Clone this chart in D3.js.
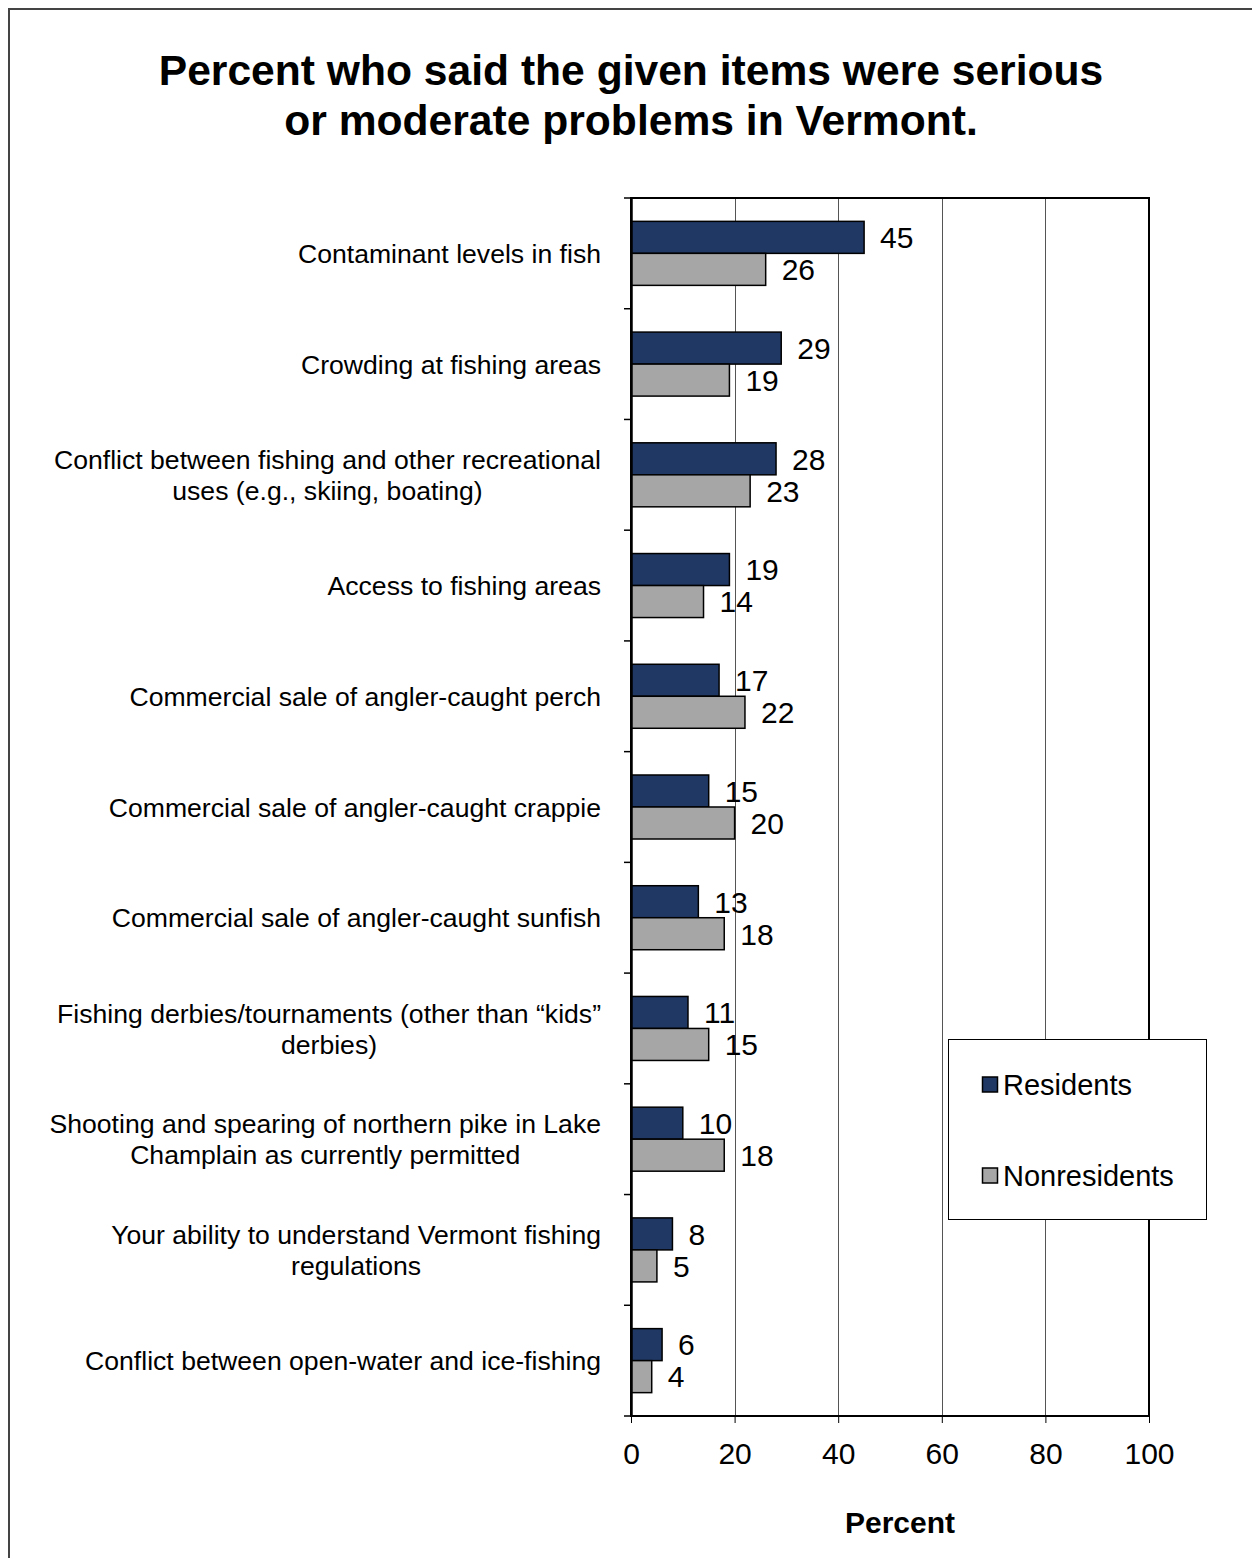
<!DOCTYPE html>
<html>
<head>
<meta charset="utf-8">
<script src="https://cdn.jsdelivr.net/npm/d3@7"></script>
<style>
  html, body { margin: 0; padding: 0; background: #fff; }
  svg { display: block; font-family: "Liberation Sans", Arial, sans-serif; }
</style>
</head>
<body>
<script>
// Survey items (each entry is the list of lines for its label)
const categories = [
  ["Contaminant levels in fish"],
  ["Crowding at fishing areas"],
  ["Conflict between fishing and other recreational", "uses (e.g., skiing, boating)"],
  ["Access to fishing areas"],
  ["Commercial sale of angler-caught perch"],
  ["Commercial sale of angler-caught crappie"],
  ["Commercial sale of angler-caught sunfish"],
  ["Fishing derbies/tournaments (other than \u201ckids\u201d", "derbies)"],
  ["Shooting and spearing of northern pike in Lake", "Champlain as currently permitted"],
  ["Your ability to understand Vermont fishing", "regulations"],
  ["Conflict between open-water and ice-fishing"]
];
const seriesNames = ["Residents", "Nonresidents"];
const residents    = [45, 29, 28, 19, 17, 15, 13, 11, 10, 8, 6];
const nonresidents = [26, 19, 23, 14, 22, 20, 18, 15, 18, 5, 4];
const xTicks = [0, 20, 40, 60, 80, 100];
const seriesColors = ["#203864", "#A6A6A6"];

const W = 1252, H = 1558;
const plot = { left: 631, right: 1149, top: 198, bottom: 1416 };

const svg = d3.select("body").append("svg")
  .attr("width", W).attr("height", H);

// outer frame (right and bottom run off the page)
svg.append("rect")
  .attr("x", 9).attr("y", 9).attr("width", W + 20).attr("height", H + 20)
  .attr("fill", "#fff").attr("stroke", "#444").attr("stroke-width", 2);

// title
const title = svg.append("text")
  .attr("text-anchor", "middle")
  .attr("font-weight", "bold").attr("font-size", 42.6).attr("fill", "#000");
title.append("tspan").attr("x", 631).attr("y", 85)
  .text("Percent who said the given items were serious");
title.append("tspan").attr("x", 631).attr("y", 135)
  .text("or moderate problems in Vermont.");

const keys = categories.map((d, i) => i);
const x = d3.scaleLinear().domain([0, 100]).range([plot.left, plot.right]);
const y = d3.scaleBand().domain(keys).range([plot.top, plot.bottom]).paddingInner(0).paddingOuter(0);
const ySub = d3.scaleBand().domain(seriesNames).range([0, y.bandwidth()])
  .paddingInner(0).paddingOuter(0.73);

// gridlines
svg.append("g").selectAll("line")
  .data(xTicks.filter(t => t > 0 && t < 100))
  .join("line")
  .attr("x1", d => Math.round(x(d)) + 0.5).attr("x2", d => Math.round(x(d)) + 0.5)
  .attr("y1", plot.top).attr("y2", plot.bottom)
  .attr("stroke", "#555").attr("stroke-width", 1);

// bars
const rows = keys.map(i => ({ i, vals: [residents[i], nonresidents[i]] }));
const rowG = svg.append("g").selectAll("g").data(rows).join("g")
  .attr("transform", d => `translate(0,${y(d.i)})`);

rowG.selectAll("rect")
  .data(d => d.vals.map((v, j) => ({ v, s: seriesNames[j], j })))
  .join("rect")
  .attr("x", x(0))
  .attr("y", d => ySub(d.s))
  .attr("width", d => x(d.v) - x(0))
  .attr("height", ySub.bandwidth())
  .attr("fill", d => seriesColors[d.j])
  .attr("stroke", "#000").attr("stroke-width", 1.5);

// value labels
rowG.selectAll("text.val")
  .data(d => d.vals.map((v, j) => ({ v, s: seriesNames[j], j })))
  .join("text").attr("class", "val")
  .attr("x", d => x(d.v) + 16)
  .attr("y", d => ySub(d.s) + ySub.bandwidth() / 2)
  .attr("dy", "0.36em")
  .attr("font-size", 30).attr("fill", "#000")
  .text(d => d.v);

// plot border
svg.append("rect")
  .attr("x", plot.left).attr("y", plot.top)
  .attr("width", plot.right - plot.left).attr("height", plot.bottom - plot.top)
  .attr("fill", "none").attr("stroke", "#000").attr("stroke-width", 2);

// category axis
const yAxis = d3.axisLeft(y).tickSize(0).tickFormat("");
svg.append("g").attr("transform", `translate(${plot.left},0)`).call(yAxis)
  .call(g => g.select(".domain").attr("stroke-width", 2.5));
// category boundary ticks
svg.append("g").selectAll("line")
  .data(keys.map(k => y(k)).concat([plot.bottom]))
  .join("line")
  .attr("x1", plot.left - 7).attr("x2", plot.left)
  .attr("y1", d => d).attr("y2", d => d)
  .attr("stroke", "#000").attr("stroke-width", 1.5);

// category labels
const lineH = 31;
svg.append("g").selectAll("text")
  .data(rows)
  .join("text")
  .attr("font-size", 26.6).attr("fill", "#000")
  .attr("text-anchor", "middle")
  .each(function(d) {
    const lines = categories[d.i];
    const t = d3.select(this);
    // measure the widest line so the block can be right-aligned
    const widths = lines.map(s => {
      const tmp = svg.append("text").attr("font-size", 26.6).text(s);
      const w = tmp.node().getComputedTextLength();
      tmp.remove();
      return w;
    });
    const maxW = d3.max(widths);
    const cx = 601 - maxW / 2;
    const cy = y(d.i) + y.bandwidth() / 2;
    lines.forEach((s, k) => {
      t.append("tspan")
        .attr("x", cx)
        .attr("y", cy + (k - (lines.length - 1) / 2) * lineH)
        .attr("dy", "0.36em")
        .text(s);
    });
  });

// value axis
const xAxis = d3.axisBottom(x).tickValues(xTicks).tickSize(7).tickPadding(20);
svg.append("g").attr("transform", `translate(0,${plot.bottom})`).call(xAxis)
  .call(g => g.select(".domain").remove())
  .call(g => g.selectAll("line").attr("stroke", "#000").attr("stroke-width", 1))
  .call(g => g.selectAll("text")
    .attr("font-size", 30).attr("fill", "#000")
    .attr("font-family", "'Liberation Sans', Arial, sans-serif"));

// axis title
svg.append("text")
  .attr("x", 900).attr("y", 1533)
  .attr("text-anchor", "middle")
  .attr("font-weight", "bold").attr("font-size", 30).attr("fill", "#000")
  .text("Percent");

// legend
const legend = svg.append("g");
legend.append("rect")
  .attr("x", 948.5).attr("y", 1039.5).attr("width", 258).attr("height", 180)
  .attr("fill", "#fff").attr("stroke", "#000").attr("stroke-width", 1);
const legendY = [1084.5, 1175.5];
const li = legend.selectAll("g.item").data(seriesNames).join("g").attr("class", "item")
  .attr("transform", (d, i) => `translate(0,${legendY[i]})`);
li.append("rect")
  .attr("x", 982.5).attr("y", -7.5).attr("width", 15).attr("height", 15)
  .attr("fill", (d, i) => seriesColors[i]).attr("stroke", "#000").attr("stroke-width", 1.5);
li.append("text")
  .attr("x", 1003).attr("y", 0).attr("dy", "0.36em")
  .attr("font-size", 29).attr("fill", "#000")
  .text(d => d);
</script>
</body>
</html>
